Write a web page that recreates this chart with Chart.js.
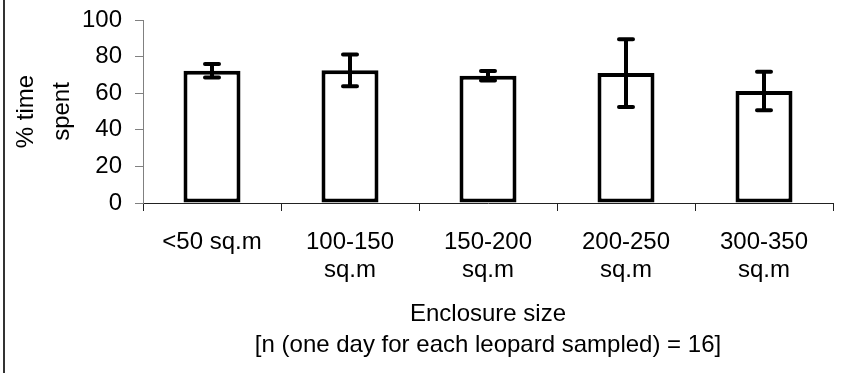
<!DOCTYPE html>
<html>
<head>
<meta charset="utf-8">
<script src="https://cdn.jsdelivr.net/npm/chart.js@4"></script>
<style>
  html, body { margin: 0; padding: 0; background: #fff; }
  #wrap { width: 850px; height: 373px; }
</style>
</head>
<body>
<div id="wrap"><canvas id="chart" width="850" height="373"></canvas></div>
<script>
// enclosure size classes and mean % time spent, with error bar half-widths
var categories = [["<50 sq.m"], ["100-150", "sq.m"], ["150-200", "sq.m"], ["200-250", "sq.m"], ["300-350", "sq.m"]];
var meanValues = [72.3, 72.5, 69.5, 71.0, 61.2];
var errValues = [3.7, 8.7, 2.6, 18.5, 10.5];
var yTicks = [0, 20, 40, 60, 80, 100];

var FONT = "'Liberation Sans', Arial, sans-serif";

// thin frame line down the left side of the picture
var frameLine = {
  id: "frameLine",
  beforeDraw: function (chart) {
    var ctx = chart.ctx;
    ctx.save();
    ctx.fillStyle = "#fff";
    ctx.fillRect(0, 0, chart.width, chart.height);
    ctx.strokeStyle = "#333";
    ctx.lineWidth = 2;
    ctx.beginPath();
    ctx.moveTo(4, 0);
    ctx.lineTo(4, chart.height);
    ctx.stroke();
    ctx.restore();
  },
};

// error bars drawn through the y scale
var errorBars = {
  id: "errorBars",
  afterDatasetsDraw: function (chart) {
    var ctx = chart.ctx;
    var yScale = chart.scales.y;
    var meta = chart.getDatasetMeta(0);
    ctx.save();
    ctx.strokeStyle = "#000";
    ctx.lineWidth = 4;
    meta.data.forEach(function (bar, i) {
      var top = yScale.getPixelForValue(meanValues[i] + errValues[i]);
      var bot = yScale.getPixelForValue(meanValues[i] - errValues[i]);
      ctx.lineCap = "butt";
      ctx.beginPath();
      ctx.moveTo(bar.x, top);
      ctx.lineTo(bar.x, bot);
      ctx.stroke();
      ctx.lineCap = "round";
      ctx.beginPath();
      ctx.moveTo(bar.x - 7, top);
      ctx.lineTo(bar.x + 7, top);
      ctx.moveTo(bar.x - 7, bot);
      ctx.lineTo(bar.x + 7, bot);
      ctx.stroke();
    });
    ctx.restore();
  },
};

var config = {
  type: "bar",
  data: {
    labels: categories,
    datasets: [
      {
        data: meanValues,
        backgroundColor: "#fff",
        borderColor: "#000",
        borderWidth: 4,
        borderSkipped: false,
        barPercentage: 0.413,
        categoryPercentage: 1,
      },
    ],
  },
  options: {
    responsive: false,
    animation: false,
    events: [],
    layout: {
      padding: { left: 8, right: 17, top: 20, bottom: 0 },
    },
    plugins: {
      legend: { display: false },
      tooltip: { enabled: false },
    },
    scales: {
      x: {
        offset: true,
        grid: {
          offset: true,
          drawOnChartArea: false,
          drawTicks: true,
          tickLength: 8,
          color: "#222",
        },
        border: { color: "#222", width: 1 },
        ticks: {
          color: "#000",
          font: { family: FONT, size: 24, lineHeight: 1.17 },
          padding: 17,
          maxRotation: 0,
          autoSkip: false,
        },
        title: {
          display: true,
          text: ["Enclosure size", "[n (one day for each leopard sampled) = 16]"],
          color: "#000",
          font: { family: FONT, size: 24, lineHeight: 1.3 },
          padding: { top: 4, bottom: 12 },
        },
        afterFit: function (scale) {
          scale.height = 170;
        },
      },
      y: {
        min: 0,
        max: 100,
        afterBuildTicks: function (scale) {
          scale.ticks = yTicks.map(function (v) {
            return { value: v };
          });
        },
        grid: {
          drawOnChartArea: false,
          drawTicks: true,
          tickLength: 8,
          color: "#808080",
        },
        border: { color: "#808080", width: 1 },
        ticks: {
          color: "#000",
          font: { family: FONT, size: 24 },
          padding: 13,
        },
        title: {
          display: true,
          text: ["% time", "spent"],
          color: "#000",
          font: { family: FONT, size: 24, lineHeight: 1.5 },
          padding: { top: 0, bottom: 0 },
        },
        afterFit: function (scale) {
          scale.width = 135;
          scale.paddingTop = 0;
          scale.paddingBottom = 0;
        },
      },
    },
  },
  plugins: [frameLine, errorBars],
};

window.onload = function () {
  var ctx = document.getElementById("chart").getContext("2d");
  window.myChart = new Chart(ctx, config);
};
</script>
</body>
</html>
